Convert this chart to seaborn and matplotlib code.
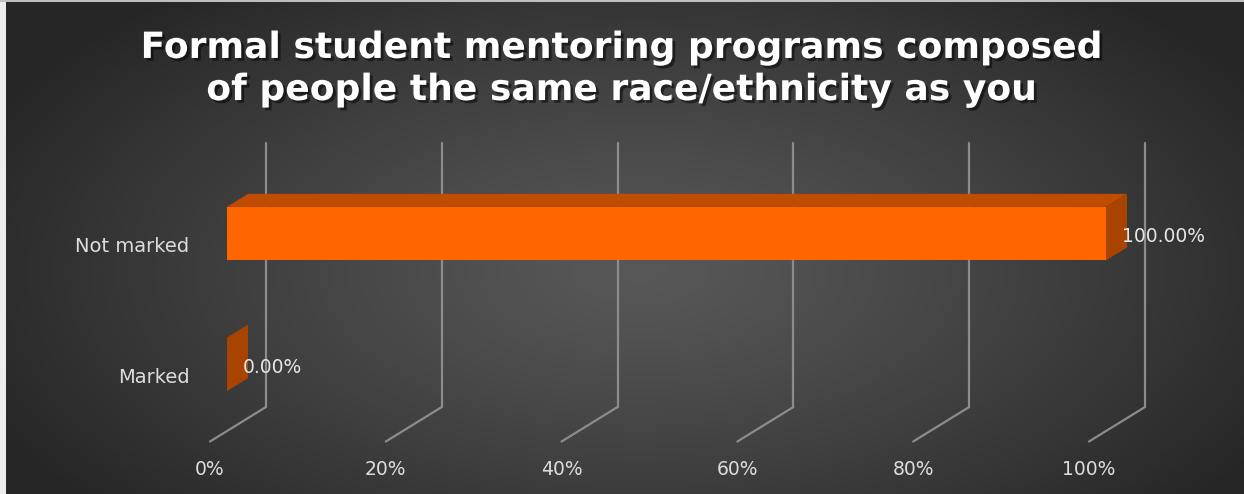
import numpy as np
import matplotlib
matplotlib.use("Agg")
import matplotlib.pyplot as plt
import matplotlib.transforms as mtrans
from matplotlib.patches import Polygon
import matplotlib.patheffects as pe
import seaborn as sns

# data
categories = ["Not marked", "Marked"]
values = [1.0, 0.0]
value_labels = ["100.00%", "0.00%"]
ticks = [0.0, 0.2, 0.4, 0.6, 0.8, 1.0]
tick_labels = ["0%", "20%", "40%", "60%", "80%", "100%"]
title = "Formal student mentoring programs composed\nof people the same race/ethnicity as you"

W, H, DPI = 1244, 494, 100
sns.set_theme(style="white")
plt.rcParams['font.family'] = ['DejaVu Sans']

fig = plt.figure(figsize=(W / DPI, H / DPI), dpi=DPI)

# radial background
bg = fig.add_axes([0, 0, 1, 1])
yy, xx = np.mgrid[0:H, 0:W]
r = np.sqrt(((xx - 640) / 720.0) ** 2 + ((yy - 270) / 360.0) ** 2)
r = np.clip(r, 0, 1)
shade = 0.345 - (0.345 - 0.15) * r ** 1.2
img = np.dstack([shade, shade, shade])
img[:, :6] = 0.93
img[:3, :] = 0.75
bg.imshow(img, aspect='auto', interpolation='bilinear')
bg.set_axis_off()

# main axes: the bar's front plane
ax = fig.add_axes([227 / W, (H - 431) / H, 879 / W, 264 / H])
ax.patch.set_alpha(0)
sns.barplot(x=values, y=categories, orient='h', color='#FF6600', width=0.41,
            saturation=1, linewidth=0, ax=ax, zorder=3)
ax.set_xlim(0, 1)
ax.set_ylim(1.51, -0.51)
for s in ax.spines.values():
    s.set_visible(False)
ax.set_xlabel("")
ax.set_ylabel("")

# depth offsets in pixels
bdx, bdy = 39, 24        # back wall relative to bar front
fdx, fdy = -17, -10.5    # floor front edge relative to bar front
ddx, ddy = 21, 13        # bar depth

grid_c = '#8c8c8c'
back = mtrans.offset_copy(ax.transData, fig=fig, x=bdx, y=bdy, units='dots')
for t in ticks:
    ax.plot([t, t], [1.51, -0.51], color=grid_c, lw=1.6, transform=back,
            clip_on=False, zorder=1)
    p0 = ax.transData.transform((t, 1.51))
    ax.plot([p0[0] + bdx, p0[0] + fdx], [p0[1] + bdy, p0[1] + fdy],
            color=grid_c, lw=1.6, transform=None, clip_on=False, zorder=1)

# 3d faces of bars
fig.canvas.draw()
for bar in list(ax.patches):
    x0, y0 = bar.get_x(), bar.get_y()
    w, h = bar.get_width(), bar.get_height()
    (ax0, ay0) = ax.transData.transform((x0, y0 + h))
    (ax1, ay1) = ax.transData.transform((x0 + w, y0))
    top = [(ax0, ay1), (ax1, ay1), (ax1 + ddx, ay1 + ddy), (ax0 + ddx, ay1 + ddy)]
    side = [(ax1, ay0), (ax1, ay1), (ax1 + ddx, ay1 + ddy), (ax1 + ddx, ay0 + ddy)]
    if w > 0:
        ax.add_artist(Polygon(top, closed=True, transform=mtrans.IdentityTransform(),
                              facecolor='#C04C00', edgecolor='none', zorder=4,
                              clip_on=False))
    ax.add_artist(Polygon(side, closed=True, transform=mtrans.IdentityTransform(),
                          facecolor='#A84300', edgecolor='none', zorder=4,
                          clip_on=False))

for i, (v, lab) in enumerate(zip(values, value_labels)):
    ax.annotate(lab, (v, i), xytext=(16, -3), textcoords='offset pixels',
                ha='left', va='center', color='#e6e6e6', fontsize=13.5,
                zorder=6, annotation_clip=False)

# ticks
ax.set_xticks(ticks)
ax.set_xticklabels(tick_labels)
ax.tick_params(axis='x', length=0, pad=21, labelsize=13.5, labelcolor='#dddddd')
ax.tick_params(axis='y', length=0, pad=27, labelsize=14, labelcolor='#dddddd')
shift_x = mtrans.ScaledTranslation(fdx / DPI, 0, fig.dpi_scale_trans)
for lbl in ax.get_xticklabels():
    lbl.set_transform(lbl.get_transform() + shift_x)
shift_y = mtrans.ScaledTranslation(0, -11 / DPI, fig.dpi_scale_trans)
for lbl in ax.get_yticklabels():
    lbl.set_transform(lbl.get_transform() + shift_y)

fig.text(0.5, 1 - 69 / H, title, ha='center', va='center', color='white',
         fontsize=26, fontweight='bold', linespacing=1.3,
         path_effects=[pe.withSimplePatchShadow(offset=(2, -2), shadow_rgbFace='black', alpha=0.5)])

fig.savefig('out.png', dpi=DPI)
